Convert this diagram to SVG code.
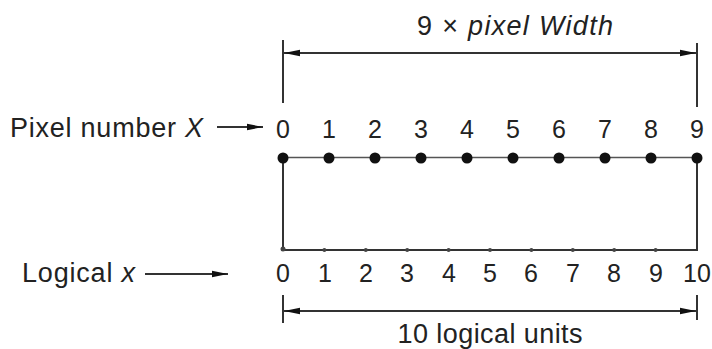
<svg xmlns="http://www.w3.org/2000/svg" width="712" height="349" viewBox="0 0 712 349">
<style>
text{font-family:"Liberation Sans",Arial,sans-serif;font-size:25px;fill:#222}
.lb{font-size:27px}
.n{text-anchor:middle}
.i{font-style:italic}
.ln{stroke:#333;stroke-width:2;fill:none}
.thin{stroke:#555;stroke-width:1.3;fill:none}
.dot{fill:#111}
.tk{fill:#444}
</style>
<defs>
<marker id="ah" viewBox="0 0 16 8" refX="16" refY="4" markerWidth="16" markerHeight="8" markerUnits="userSpaceOnUse" orient="auto-start-reverse">
<path d="M0,0.8 L16,4 L0,7.2 Z" fill="#111"/>
</marker>
</defs>
<rect width="712" height="349" fill="#fff"/>
<g id="connectors">
<line class="ln" x1="283" y1="40" x2="283" y2="103"/>
<line class="ln" x1="697" y1="43" x2="697" y2="107"/>
<line class="ln" x1="284" y1="53" x2="696" y2="53" marker-start="url(#ah)" marker-end="url(#ah)"/>
<line class="ln" x1="283" y1="295" x2="283" y2="323"/>
<line class="ln" x1="697" y1="295" x2="697" y2="320"/>
<line class="ln" x1="284" y1="311" x2="696" y2="311" marker-start="url(#ah)" marker-end="url(#ah)"/>
<line class="ln" x1="217" y1="127" x2="263" y2="127" marker-end="url(#ah)"/>
<line class="ln" x1="145" y1="274" x2="228" y2="274" marker-end="url(#ah)"/>
<line class="thin" x1="283" y1="157.5" x2="697" y2="157.5"/>
<polyline class="ln" points="283,158 283,250 697,250 697,158"/>
</g>
<g id="dim-top"><text class="n lb" x="515" y="35" textLength="196">9 × <tspan class="i">pixel Width</tspan></text></g>
<g id="label-pixel"><text class="lb" x="10" y="137" textLength="193">Pixel number <tspan class="i">X</tspan></text></g>
<g id="label-logical"><text class="lb" x="22" y="282" textLength="113">Logical <tspan class="i">x</tspan></text></g>
<g id="dim-bottom"><text class="n lb" x="490" y="343" textLength="185">10 logical units</text></g>
<g id="pixel-numbers">
<text class="n" x="283" y="138">0</text><text class="n" x="329" y="138">1</text><text class="n" x="375" y="138">2</text><text class="n" x="421" y="138">3</text><text class="n" x="467" y="138">4</text><text class="n" x="513" y="138">5</text><text class="n" x="559" y="138">6</text><text class="n" x="605" y="138">7</text><text class="n" x="651" y="138">8</text><text class="n" x="697" y="138">9</text>
</g>
<g id="pixel-dots">
<circle class="dot" cx="283" cy="158" r="5.5"/><circle class="dot" cx="329" cy="158" r="5.5"/><circle class="dot" cx="375" cy="158" r="5.5"/><circle class="dot" cx="421" cy="158" r="5.5"/><circle class="dot" cx="467" cy="158" r="5.5"/><circle class="dot" cx="513" cy="158" r="5.5"/><circle class="dot" cx="559" cy="158" r="5.5"/><circle class="dot" cx="605" cy="158" r="5.5"/><circle class="dot" cx="651" cy="158" r="5.5"/><circle class="dot" cx="697" cy="158" r="5.5"/>
</g>
<g id="logical-ticks">
<circle class="tk" cx="283" cy="249" r="2.5"/><circle class="tk" cx="324.4" cy="250" r="2"/><circle class="tk" cx="365.8" cy="250" r="2"/><circle class="tk" cx="407.2" cy="250" r="2"/><circle class="tk" cx="448.6" cy="250" r="2"/><circle class="tk" cx="490" cy="250" r="2"/><circle class="tk" cx="531.4" cy="250" r="2"/><circle class="tk" cx="572.8" cy="250" r="2"/><circle class="tk" cx="614.2" cy="250" r="2"/><circle class="tk" cx="655.6" cy="250" r="2"/>
</g>
<g id="logical-numbers">
<text class="n" x="283" y="282">0</text><text class="n" x="325" y="282">1</text><text class="n" x="366" y="282">2</text><text class="n" x="407" y="282">3</text><text class="n" x="449" y="282">4</text><text class="n" x="490" y="282">5</text><text class="n" x="531" y="282">6</text><text class="n" x="573" y="282">7</text><text class="n" x="614" y="282">8</text><text class="n" x="656" y="282">9</text><text class="n" x="697" y="282">10</text>
</g>
</svg>
